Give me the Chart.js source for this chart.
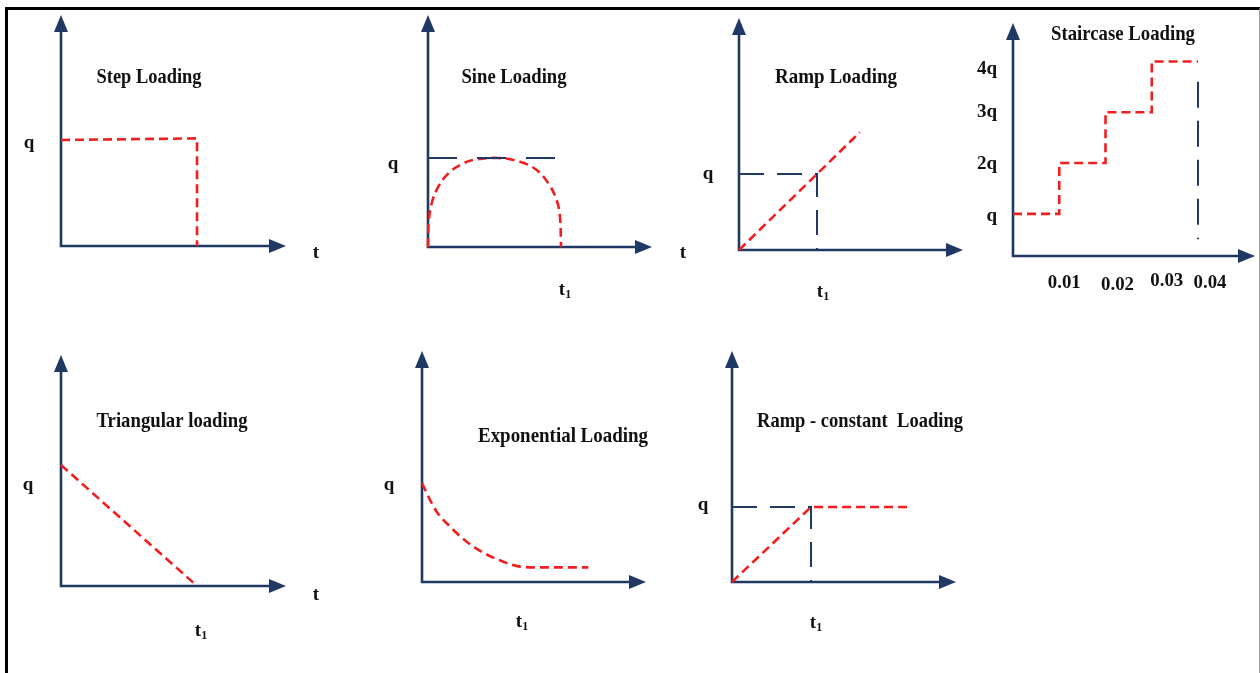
<!DOCTYPE html>
<html>
<head>
<meta charset="utf-8">
<title>Loading types</title>
<script src="https://cdn.jsdelivr.net/npm/chart.js@4.4.1/dist/chart.umd.min.js"></script>
<style>
  html, body { margin:0; padding:0; background:#fff; overflow:hidden; }
  body { width:1260px; height:673px; position:relative; }
  #frame { position:absolute; left:5px; top:7px; width:1255px; height:690px; box-sizing:border-box;
           border-left:3px solid #000; border-top:3px solid #000; border-right:1px solid #9a9a9a; }
  canvas { position:absolute; }
</style>
</head>
<body>
<div id="frame"></div>
<script>
// ── DATA (time in units of t1, load in units of q) ──────
const stepT = [0, 1, 1];
const stepQ = [1, 1.015, 0];

const sineT = [0, 0.002, 0.028, 0.078, 0.153, 0.241, 0.341, 0.529, 0.692, 0.817, 0.904, 0.967, 0.992, 1];
const sineQ = [0, 0.228, 0.491, 0.678, 0.828, 0.921, 0.978, 1, 0.958, 0.865, 0.716, 0.528, 0.340, 0];
const sineGuideT = [0, 0.955];
const sineGuideQ = [1, 1];

const rampT = [0, 1.55];
const rampQ = [0, 1.55];
const rampGuideT = [0, 1, 1];
const rampGuideQ = [1, 1, 0];

// staircase: time in seconds, load in multiples of q
const stairT = [0, 0.01, 0.01, 0.02, 0.02, 0.03, 0.03, 0.04];
const stairQ = [1, 1, 2, 2, 3, 3, 4, 4];
const stairGuideT = [0.04, 0.04];
const stairGuideQ = [3.6, 0.5];
const stairTicks = [0.01, 0.02, 0.03, 0.04];
const stairTickLabels = ['0.01', '0.02', '0.03', '0.04'];
const stairLevels = [1, 2, 3, 4];
const stairLevelLabels = ['q', '2q', '3q', '4q'];

const triT = [0, 1];
const triQ = [1, 0];

const expT = [0, 0.065, 0.150, 0.286, 0.456, 0.626, 0.830, 1.0, 1.17, 1.374, 1.697];
const expQ = [1, 0.862, 0.710, 0.559, 0.407, 0.296, 0.205, 0.155, 0.148, 0.148, 0.148];

const rcT = [0, 1, 2.215];
const rcQ = [0, 1, 1];
const rcGuideT = [0, 1, 1];
const rcGuideQ = [1, 1, 0];

// ── STYLE ───────────────────────────────────────
const NAVY = '#1f3864';
const RED  = '#f01e1e';
const INK  = '#111';
const PAD  = { l:70, r:50, t:30, b:60 };
const LABEL_FONT = 'bold 19px "Liberation Serif", "Times New Roman", serif';
const TITLE_FONT = 'bold 21px "Liberation Serif", "Times New Roman", serif';

const pts = (xs, ys) => xs.map((x, i) => ({ x, y: ys[i] }));

// smooth: 'monotone' or a catmull tension value
const redLine = (xs, ys, smooth) => ({
  data: pts(xs, ys), borderColor: RED, borderWidth: 2.6, borderDash: [9, 5],
  cubicInterpolationMode: smooth === 'monotone' ? 'monotone' : 'default',
  tension: typeof smooth === 'number' ? smooth : 0,
  pointRadius: 0, fill: false, clip: false, borderCapStyle: 'butt', borderJoinStyle: 'miter'
});
const navyGuide = (xs, ys, dash) => ({
  data: pts(xs, ys), borderColor: NAVY, borderWidth: 2, borderDash: dash,
  tension: 0, pointRadius: 0, fill: false, clip: false, borderCapStyle: 'butt'
});

// ── PANELS ──────────────────────────────────────
const PANELS = [
  { ox:61, oy:246, xTip:286, yTip:15, xMax:1.654, yMax:2.179,
    title:{ text:'Step Loading', x:149, y:83, w:105 },
    datasets:[ redLine(stepT, stepQ) ],
    yLabels:[{ v:1, text:'q', x:29, dy:8 }], tLabel:{ x:316, y:258 } },
  { ox:428, oy:247, xTip:652, yTip:15, xMax:1.684, yMax:2.607,
    title:{ text:'Sine Loading', x:514, y:83, w:105 },
    datasets:[ navyGuide(sineGuideT, sineGuideQ, [29, 20]), redLine(sineT, sineQ, 0.4) ],
    yLabels:[{ v:1, text:'q', x:393, dy:11 }], tLabel:{ x:683, y:258 },
    t1Label:{ v:1, dx:4, y:295 } },
  { ox:739, oy:250, xTip:963, yTip:18, xMax:2.872, yMax:3.053,
    title:{ text:'Ramp Loading', x:836, y:83, w:122 },
    datasets:[ redLine(rampT, rampQ), navyGuide(rampGuideT, rampGuideQ, [25, 13]) ],
    yLabels:[{ v:1, text:'q', x:708, dy:5 }],
    t1Label:{ v:1, dx:6, y:297 } },
  { ox:1013, oy:256, xTip:1255, yTip:23, xMax:0.05232, yMin:0.17, yMax:4.757,
    title:{ text:'Staircase Loading', x:1123, y:40, w:144 },
    datasets:[ navyGuide(stairGuideT, stairGuideQ, [26, 13]), redLine(stairT, stairQ) ],
    yLabels: stairLevels.map((v, i) => ({ v, text:stairLevelLabels[i], x:997, dy:[7, 6, 5, 13][i], align:'right' })),
    xLabels: stairTicks.map((v, i) => ({ v, text:stairTickLabels[i], dx:[5, 12, 15, 12][i], y:[288, 290, 286, 288][i] })) },
  { ox:61, oy:586, xTip:286, yTip:355, xMax:1.654, yMax:1.909,
    title:{ text:'Triangular loading', x:172, y:427, w:151 },
    datasets:[ redLine(triT, triQ) ],
    yLabels:[{ v:1, text:'q', x:28, dy:25 }], tLabel:{ x:316, y:600 },
    t1Label:{ v:1, dx:4, y:636 } },
  { ox:422, oy:582, xTip:646, yTip:351, xMax:2.286, yMax:2.333,
    title:{ text:'Exponential Loading', x:563, y:442, w:170 },
    datasets:[ redLine(expT, expQ, 'monotone') ],
    yLabels:[{ v:1, text:'q', x:389, dy:7 }],
    t1Label:{ v:1, dx:2, y:627 } },
  { ox:732, oy:582, xTip:956, yTip:351, xMax:2.835, yMax:3.08,
    title:{ text:'Ramp - constant  Loading', x:860, y:427, w:206 },
    datasets:[ navyGuide(rcGuideT, rcGuideQ, [25, 13]), redLine(rcT, rcQ) ],
    yLabels:[{ v:1, text:'q', x:703, dy:3 }],
    t1Label:{ v:1, dx:5, y:628 } }
];

// ── PLUGINS ─────────────────────────────────────
const axisArrows = {
  id: 'axisArrows',
  beforeDatasetsDraw(chart) {
    const { ctx, chartArea: a } = chart;
    ctx.save();
    ctx.strokeStyle = NAVY; ctx.fillStyle = NAVY;
    ctx.lineWidth = 2.6; ctx.lineJoin = 'miter';
    ctx.beginPath();
    ctx.moveTo(a.left, a.top + 14);
    ctx.lineTo(a.left, a.bottom);
    ctx.lineTo(a.right - 14, a.bottom);
    ctx.stroke();
    ctx.beginPath();
    ctx.moveTo(a.left, a.top); ctx.lineTo(a.left - 7, a.top + 17); ctx.lineTo(a.left + 7, a.top + 17);
    ctx.closePath(); ctx.fill();
    ctx.beginPath();
    ctx.moveTo(a.right, a.bottom); ctx.lineTo(a.right - 17, a.bottom - 7); ctx.lineTo(a.right - 17, a.bottom + 7);
    ctx.closePath(); ctx.fill();
    ctx.restore();
  }
};

function panelText(p, left, top) {
  return {
    id: 'panelText',
    afterDatasetsDraw(chart) {
      const { ctx, scales: { x, y } } = chart;
      ctx.save();
      ctx.fillStyle = INK;
      ctx.textBaseline = 'alphabetic';

      ctx.font = TITLE_FONT; ctx.textAlign = 'center';
      ctx.fillText(p.title.text, p.title.x - left, p.title.y - top, p.title.w);

      ctx.font = LABEL_FONT;
      (p.yLabels || []).forEach(l => {
        ctx.textAlign = l.align || 'center';
        ctx.fillText(l.text, l.x - left, y.getPixelForValue(l.v) + l.dy, 26);
      });
      ctx.textAlign = 'center';
      (p.xLabels || []).forEach(l => {
        ctx.fillText(l.text, x.getPixelForValue(l.v) + l.dx, l.y - top, 33);
      });
      if (p.tLabel) ctx.fillText('t', p.tLabel.x - left, p.tLabel.y - top);

      if (p.t1Label) {
        const cx = x.getPixelForValue(p.t1Label.v) + p.t1Label.dx;
        const by = p.t1Label.y - top;
        ctx.font = LABEL_FONT;
        const wt = ctx.measureText('t').width;
        ctx.font = 'bold 12px "Liberation Serif", serif';
        const w1 = ctx.measureText('1').width;
        const sx = cx - (wt + w1) / 2;
        ctx.textAlign = 'left';
        ctx.font = LABEL_FONT;
        ctx.fillText('t', sx, by);
        ctx.font = 'bold 12px "Liberation Serif", serif';
        ctx.fillText('1', sx + wt, by + 3);
      }
      ctx.restore();
    }
  };
}

// ── BUILD ───────────────────────────────────────
PANELS.forEach(p => {
  const left = p.ox - PAD.l, top = p.yTip - PAD.t;
  const canvas = document.createElement('canvas');
  canvas.width  = (p.xTip - p.ox) + PAD.l + PAD.r;
  canvas.height = (p.oy - p.yTip) + PAD.t + PAD.b;
  canvas.style.left = left + 'px';
  canvas.style.top  = top + 'px';
  document.body.appendChild(canvas);

  new Chart(canvas, {
    type: 'line',
    data: { datasets: p.datasets },
    options: {
      responsive: false, animation: false, devicePixelRatio: 1,
      layout: { padding: { left: PAD.l, right: PAD.r, top: PAD.t, bottom: PAD.b } },
      scales: {
        x: { type: 'linear', min: 0, max: p.xMax, display: false },
        y: { type: 'linear', min: p.yMin || 0, max: p.yMax, display: false }
      },
      plugins: { legend: { display: false }, tooltip: { enabled: false } },
      events: []
    },
    plugins: [axisArrows, panelText(p, left, top)]
  });
});
</script>
</body>
</html>
